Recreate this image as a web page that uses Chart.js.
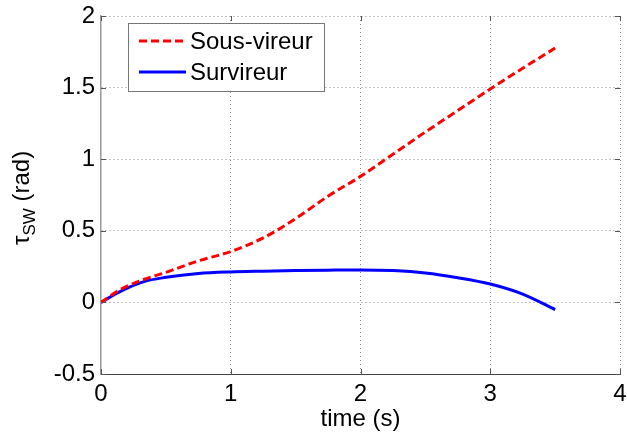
<!DOCTYPE html>
<html>
<head>
<meta charset="utf-8">
<script src="https://cdn.jsdelivr.net/npm/chart.js@4/dist/chart.umd.min.js"></script>
<style>
  html, body { margin: 0; padding: 0; background: #fff; }
  #wrap { width: 627px; height: 437px; }
</style>
</head>
<body>
<div id="wrap"><canvas id="c" width="627" height="437"></canvas></div>
<script>
// ---- data ----
const timeValues = [0, 0.15, 0.33, 0.5, 0.75, 1.0, 1.25, 1.5, 1.75, 2.0, 2.25, 2.5, 2.75, 3.0, 3.25, 3.5];
const sousVireur = [0, 0.09, 0.16, 0.21, 0.29, 0.355, 0.45, 0.585, 0.742, 0.88, 1.035, 1.19, 1.34, 1.49, 1.635, 1.776];
const survireur  = [0, 0.077, 0.145, 0.175, 0.202, 0.213, 0.218, 0.222, 0.225, 0.227, 0.222, 0.205, 0.172, 0.128, 0.058, -0.05];
const seriesLabels = ['Sous-vireur', 'Survireur'];
const xTicks = [0, 1, 2, 3, 4];
const yTicks = [-0.5, 0, 0.5, 1, 1.5, 2];
const xTitle = 'time (s)';
const yTitleMain = 'τ', yTitleSub = 'SW', yTitleRest = ' (rad)';

const FONT = '"Liberation Sans", Arial, sans-serif';

const toPts = (ys) => timeValues.map((t, i) => ({ x: t, y: ys[i] }));

const axisDecor = {
  id: 'axisDecor',
  afterDraw(chart) {
    const { ctx, chartArea: a, scales: { x, y } } = chart;
    ctx.save();
    // inner tick marks
    ctx.strokeStyle = '#555';
    ctx.lineWidth = 1;
    xTicks.forEach(v => {
      const px = Math.round(x.getPixelForValue(v)) + 0.5;
      ctx.beginPath(); ctx.moveTo(px, a.bottom); ctx.lineTo(px, a.bottom - 5); ctx.stroke();
      ctx.beginPath(); ctx.moveTo(px, a.top); ctx.lineTo(px, a.top + 5); ctx.stroke();
    });
    yTicks.forEach(v => {
      const py = Math.round(y.getPixelForValue(v)) + 0.5;
      ctx.beginPath(); ctx.moveTo(a.left, py); ctx.lineTo(a.left + 5, py); ctx.stroke();
      ctx.beginPath(); ctx.moveTo(a.right, py); ctx.lineTo(a.right - 5, py); ctx.stroke();
    });
    // y title with subscript
    ctx.fillStyle = '#000';
    ctx.translate(29, 245);
    ctx.rotate(-Math.PI / 2);
    ctx.textBaseline = 'alphabetic';
    ctx.textAlign = 'left';
    ctx.font = '24px ' + FONT;
    ctx.fillText(yTitleMain, 0, 0);
    let w = ctx.measureText(yTitleMain).width;
    ctx.font = '17px ' + FONT;
    ctx.fillText(yTitleSub, w, 6);
    w += ctx.measureText(yTitleSub).width;
    ctx.font = '24px ' + FONT;
    ctx.fillText(yTitleRest, w, 0);
    ctx.restore();

    // legend
    ctx.save();
    const bx = 128.5, by = 23.5, bw = 196, bh = 68;
    ctx.fillStyle = '#fff';
    ctx.fillRect(bx, by, bw, bh);
    ctx.strokeStyle = '#777';
    ctx.lineWidth = 1;
    ctx.strokeRect(bx, by, bw, bh);
    const rows = [41, 72];
    chart.data.datasets.forEach((ds, i) => {
      ctx.strokeStyle = ds.borderColor;
      ctx.lineWidth = ds.borderWidth;
      ctx.setLineDash(ds.borderDash || []);
      ctx.beginPath(); ctx.moveTo(139, rows[i]); ctx.lineTo(186, rows[i]); ctx.stroke();
      ctx.setLineDash([]);
      ctx.fillStyle = '#000';
      ctx.font = '24px ' + FONT;
      ctx.textBaseline = 'middle';
      ctx.textAlign = 'left';
      ctx.fillText(ds.label, 190, rows[i] + 1);
    });
    ctx.restore();
  }
};

new Chart(document.getElementById('c'), {
  type: 'line',
  data: {
    datasets: [
      { label: seriesLabels[0], data: toPts(sousVireur), borderColor: '#ff0000', borderWidth: 3,
        borderDash: [8, 4], pointRadius: 0, cubicInterpolationMode: 'monotone', fill: false },
      { label: seriesLabels[1], data: toPts(survireur), borderColor: '#0000ff', borderWidth: 3,
        pointRadius: 0, cubicInterpolationMode: 'monotone', fill: false }
    ]
  },
  options: {
    responsive: false,
    animation: false,
    devicePixelRatio: 1,
    layout: { padding: { left: 0, top: 16, right: 7, bottom: 0 } },
    plugins: { legend: { display: false }, tooltip: { enabled: false } },
    scales: {
      x: {
        type: 'linear', min: 0, max: 4,
        afterBuildTicks: (s) => { s.ticks = xTicks.map(v => ({ value: v })); },
        afterFit: (s) => { s.height = 63; s.paddingLeft = 0; s.paddingRight = 0; },
        grid: { drawTicks: false, color: (c) => (c.tick && c.tick.value === 0) ? 'rgba(0,0,0,0)' : '#888', lineWidth: 1 },
        border: { display: true, color: '#444', width: 1, dash: [1, 3] },
        ticks: { color: '#000', font: { family: FONT, size: 24 }, padding: 6, maxRotation: 0,
                 callback: (v) => String(v) },
        title: { display: true, text: xTitle, color: '#000', font: { family: FONT, size: 24 },
                 padding: { top: 0, bottom: 3 } }
      },
      y: {
        type: 'linear', min: -0.5, max: 2,
        afterBuildTicks: (s) => { s.ticks = yTicks.map(v => ({ value: v })); },
        afterFit: (s) => { s.width = 101; s.paddingTop = 0; s.paddingBottom = 0; },
        grid: { drawTicks: false, color: (c) => (c.tick && c.tick.value === -0.5) ? 'rgba(0,0,0,0)' : '#888', lineWidth: 1 },
        border: { display: true, color: '#999', width: 1.5, dash: [1, 3] },
        ticks: { color: '#000', font: { family: FONT, size: 24 }, padding: 6,
                 callback: (v) => String(v) }
      }
    }
  },
  plugins: [axisDecor]
});
</script>
</body>
</html>
